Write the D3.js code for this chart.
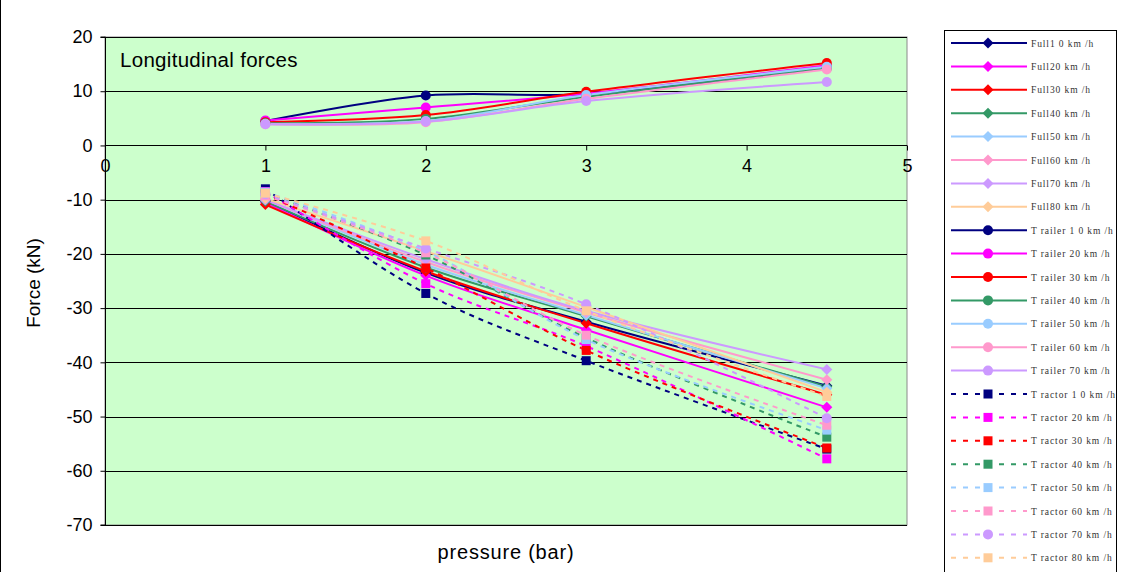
<!DOCTYPE html>
<html>
<head>
<meta charset="utf-8">
<script src="https://cdn.jsdelivr.net/npm/d3@7"></script>
<style>
  html, body { margin: 0; padding: 0; background: #fff; }
  svg { display: block; }
</style>
</head>
<body>
<svg id="chart" width="1121" height="572"></svg>
<script>
// ---------- DATA ----------
const pressures = [1, 2, 3, 4.5];
const xTicks = [0, 1, 2, 3, 4, 5];
const yTicks = [20, 10, 0, -10, -20, -30, -40, -50, -60, -70];
const speeds = ["10", "20", "30", "40", "50", "60", "70", "80"];
const colors = ["#000080", "#FF00FF", "#FF0000", "#339966", "#99CCFF", "#FF99CC", "#CC99FF", "#FFCC99"];

// Full (diamond markers, solid)
const full10 = [-10.2, -23.5, -32.5, -44.3];
const full20 = [-10.5, -24.0, -34.0, -48.3];
const full30 = [-10.9, -23.2, -32.8, -46.0];
const full40 = [-10.3, -22.5, -31.5, -44.5];
const full50 = [-10.0, -22.0, -31.3, -44.8];
const full60 = [-10.0, -21.5, -30.8, -43.2];
const full70 = [-10.0, -21.0, -30.5, -41.3];
const full80 = [-9.8, -19.5, -29.8, -45.5];

// Trailer (circle markers, solid)
const trailer10 = [4.5, 9.2, 9.5, 14.3];
const trailer20 = [4.6, 7.0, 9.6, 14.8];
const trailer30 = [4.3, 5.6, 9.9, 15.2];
const trailer40 = [4.1, 4.9, 9.0, 14.3];
const trailer50 = [4.0, 4.5, 9.3, 14.5];
const trailer60 = [3.9, 4.3, 8.6, 14.0];
const trailer70 = [3.9, 4.4, 8.2, 11.7];

// Tractor (square markers, dashed; 70 uses circle)
const tractor10 = [-8.0, -27.3, -39.7, -56.0];
const tractor20 = [-8.5, -25.5, -37.0, -57.8];
const tractor30 = [-9.0, -22.6, -37.8, -55.8];
const tractor40 = [-8.8, -20.2, -35.5, -53.8];
const tractor50 = [-8.6, -19.5, -35.8, -52.5];
const tractor60 = [-9.3, -19.8, -35.0, -51.6];
const tractor70 = [-9.0, -19.0, -29.3, -50.3];
const tractor80 = [-8.8, -17.6, -30.5, -46.3];

const fullSeries = [full10, full20, full30, full40, full50, full60, full70, full80];
const trailerSeries = [trailer10, trailer20, trailer30, trailer40, trailer50, trailer60, trailer70];
const tractorSeries = [tractor10, tractor20, tractor30, tractor40, tractor50, tractor60, tractor70, tractor80];

// ---------- BUILD SERIES TABLE ----------
const series = [];
fullSeries.forEach((v, i) => series.push({
  name: (i === 0 ? "Full1 0 km /h" : "Full" + speeds[i] + " km /h"),
  values: v, color: colors[i], marker: "diamond", dashed: false }));
trailerSeries.forEach((v, i) => series.push({
  name: "T railer " + (i === 0 ? "1 0" : speeds[i]) + " km /h",
  values: v, color: colors[i], marker: "circle", dashed: false }));
tractorSeries.forEach((v, i) => series.push({
  name: "T ractor " + (i === 0 ? "1 0" : speeds[i]) + " km /h",
  values: v, color: colors[i], marker: (i === 6 ? "circle" : "square"), dashed: true }));

// ---------- LAYOUT ----------
const svg = d3.select("#chart");
const P = { left: 105, right: 907, top: 37, bottom: 525 };
const x = d3.scaleLinear().domain([0, 5]).range([P.left, P.right]);
const y = d3.scaleLinear().domain([-70, 20]).range([P.bottom, P.top]);

// chart left frame
svg.append("line").attr("x1", 0.5).attr("x2", 0.5).attr("y1", 0).attr("y2", 572)
  .attr("stroke", "#000").attr("stroke-width", 1);

// plot background
svg.append("rect").attr("x", P.left).attr("y", P.top)
  .attr("width", P.right - P.left).attr("height", P.bottom - P.top)
  .attr("fill", "#CCFFCC").attr("stroke", "#8a8a8a").attr("stroke-width", 1);

// gridlines
svg.append("g").selectAll("line").data(yTicks).join("line")
  .attr("x1", P.left).attr("x2", P.right)
  .attr("y1", d => Math.round(y(d)) + 0.5).attr("y2", d => Math.round(y(d)) + 0.5)
  .attr("stroke", "#000").attr("stroke-width", 1);

const font = "'Liberation Sans', Arial, sans-serif";
const fmt = d => String(d);

// y axis
const yAxis = svg.append("g").attr("transform", `translate(${P.left + 0.5},0)`)
  .call(d3.axisLeft(y).tickValues(yTicks).tickSize(5).tickPadding(8).tickFormat(fmt));
yAxis.selectAll("text").attr("font-size", 18).attr("font-family", font).attr("fill", "#000");
yAxis.selectAll("line,path").attr("stroke", "#000");
yAxis.select(".domain").attr("d", `M-5,${P.top}H0V${P.bottom}H-5`);

// x axis at y=0
const xAxis = svg.append("g").attr("transform", `translate(0,${Math.round(y(0)) + 0.5})`)
  .call(d3.axisBottom(x).tickValues(xTicks).tickSize(5).tickPadding(9).tickFormat(fmt));
xAxis.selectAll("text").attr("font-size", 18).attr("font-family", font).attr("fill", "#000");
xAxis.selectAll("line,path").attr("stroke", "#000");
xAxis.select(".domain").attr("d", `M${P.left},0H${P.right}`);

// axis titles
svg.append("text").attr("transform", "translate(40,283) rotate(-90)")
  .attr("text-anchor", "middle").attr("font-size", 19).attr("font-family", font).text("Force (kN)");
svg.append("text").attr("x", 506).attr("y", 559)
  .attr("text-anchor", "middle").attr("font-size", 20).attr("letter-spacing", 0.8)
  .attr("font-family", font).text("pressure (bar)");
svg.append("text").attr("x", 120).attr("y", 67)
  .attr("font-size", 20.5).attr("letter-spacing", 0.3).attr("font-family", font).text("Longitudinal forces");

// ---------- LINES ----------
const line = d3.line().x((d, i) => x(pressures[i])).y(d => y(d)).curve(d3.curveCatmullRom.alpha(0.5));
const linesG = svg.append("g");
series.forEach(s => {
  linesG.append("path").attr("d", line(s.values))
    .attr("fill", "none").attr("stroke", s.color).attr("stroke-width", 2)
    .attr("stroke-dasharray", s.dashed ? "5,5" : null);
});

// ---------- MARKERS ----------
function drawMarker(g, type, cx, cy, color) {
  if (type === "diamond") {
    const r = 5.5;
    g.append("path").attr("d", `M${cx},${cy - r}L${cx + r},${cy}L${cx},${cy + r}L${cx - r},${cy}Z`).attr("fill", color);
  } else if (type === "circle") {
    g.append("circle").attr("cx", cx).attr("cy", cy).attr("r", 5).attr("fill", color);
  } else {
    g.append("rect").attr("x", cx - 4.5).attr("y", cy - 4.5).attr("width", 9).attr("height", 9).attr("fill", color);
  }
}
const markG = svg.append("g");
series.forEach(s => {
  s.values.forEach((v, i) => drawMarker(markG, s.marker, x(pressures[i]), y(v), s.color));
});

// ---------- LEGEND ----------
svg.append("rect").attr("x", 944.5).attr("y", 30.5).attr("width", 172).attr("height", 560)
  .attr("fill", "#fff").attr("stroke", "#000").attr("stroke-width", 1);
const lg = svg.append("g");
series.forEach((s, i) => {
  const ly = 43 + i * 23.4;
  lg.append("line").attr("x1", 951).attr("x2", 1027).attr("y1", ly).attr("y2", ly)
    .attr("stroke", s.color).attr("stroke-width", 2)
    .attr("stroke-dasharray", s.dashed ? "5,7" : null);
  drawMarker(lg, s.marker, 988, ly, s.color);
  lg.append("text").attr("x", 1031).attr("y", ly + 3.5)
    .attr("font-size", 9.5).attr("font-family", "'Liberation Serif', 'DejaVu Serif', serif")
    .attr("letter-spacing", 0.9).attr("fill", "#333").text(s.name);
});
</script>
</body>
</html>
